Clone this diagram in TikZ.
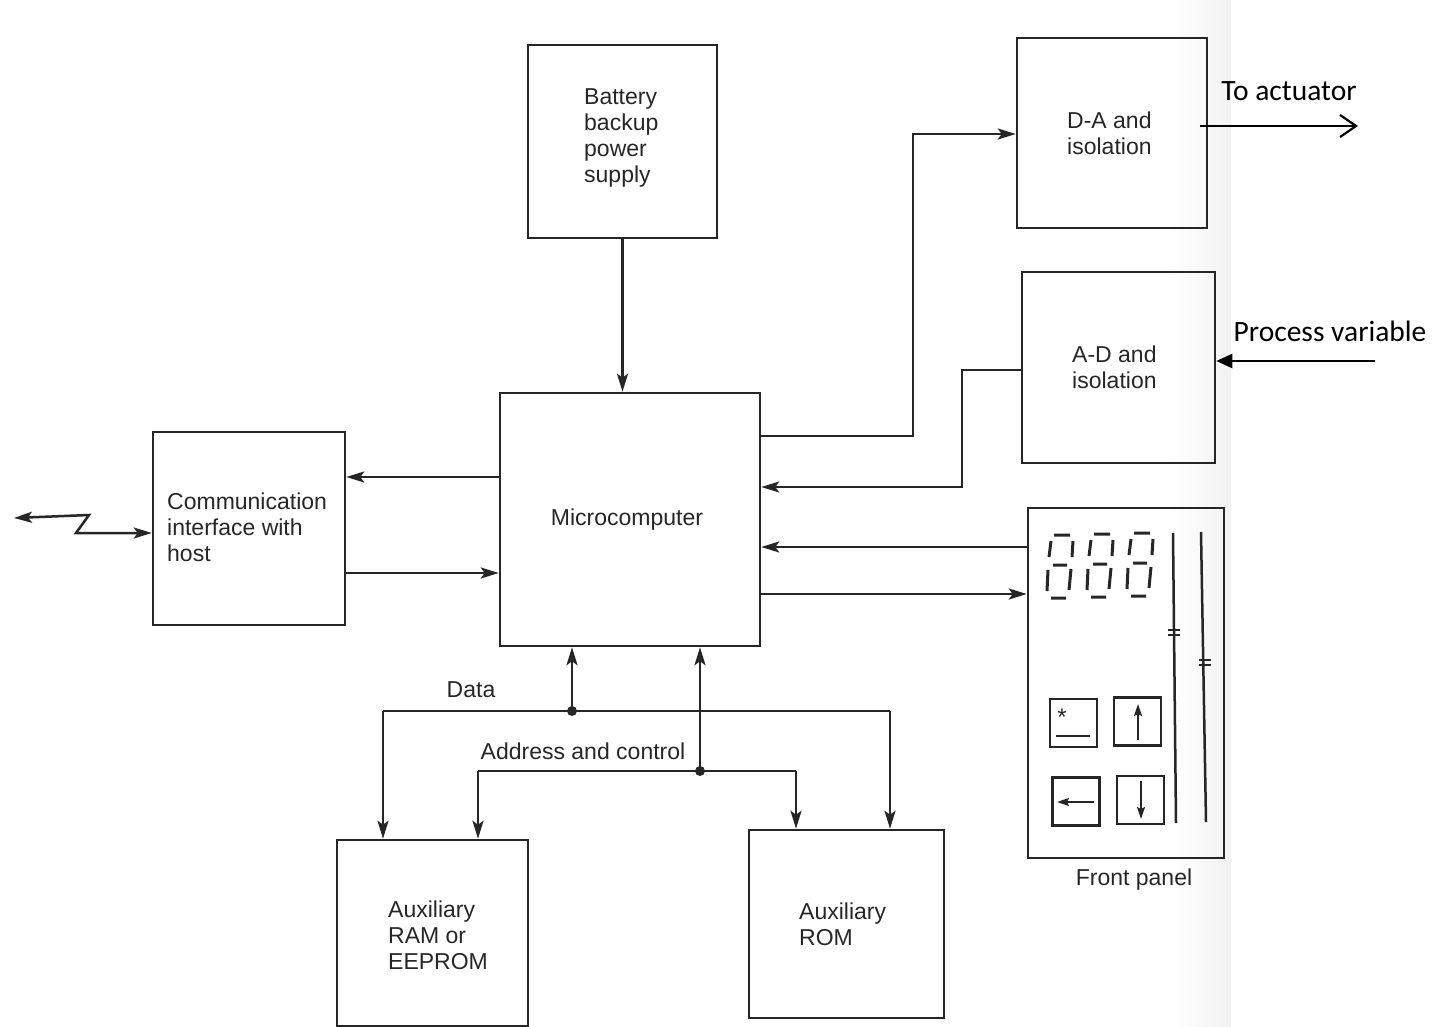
\documentclass[tikz,border=0pt]{standalone}
\usepackage{fontspec}
\setmainfont{Liberation Sans}
\newfontfamily\gillfont{Carlito}
\usetikzlibrary{arrows.meta}
\begin{document}
\begin{tikzpicture}[x=1pt,y=-1pt,
  box/.style={draw=black!85, line width=2.5pt, inner sep=0pt},
  lbl/.style={font=\fontsize{23}{26}\selectfont, align=left, inner sep=0pt, text=black!85},
  arr/.style={draw=black!85, line width=2.5pt, -{Stealth[length=18pt,width=11pt,inset=4pt]}},
  wire/.style={draw=black!85, line width=2.5pt},
  seg/.style={draw=black!85, line width=3pt},
  key/.style={draw=black!85, line width=2.2pt, inner sep=0pt, minimum width=47pt, minimum height=48pt},
  karr/.style={draw=black!85, line width=1.8pt, -{Stealth[length=12pt,width=8pt,inset=2pt]}},
  note/.style={font=\gillfont\fontsize{29.5}{32}\selectfont, inner sep=0pt},
  digit/.pic={
    \draw[seg] (7,0)--(23,0) (4,6)--(2,22) (26,6)--(25,22) (6,30)--(20,30)
               (1,35)--(0,56) (24,34)--(22,55) (4,63)--(19,63);
  }]
\useasboundingbox (0,0) rectangle (1435,1027);
\shade[left color=white, right color=black!5] (1170,0) rectangle (1231,1027);

% boxes
\node[box, minimum width=189pt, minimum height=193pt] (bat) at (622.5,141.5) {};
\node[box, minimum width=260pt, minimum height=253pt] (mic) at (630,519.5) {};
\node[box, minimum width=192pt, minimum height=193pt] (com) at (249,528.5) {};
\node[box, minimum width=190pt, minimum height=190pt] (da) at (1112,133) {};
\node[box, minimum width=193pt, minimum height=191pt] (ad) at (1118.5,367.5) {};
\node[box, minimum width=196pt, minimum height=350pt] (fp) at (1126,683) {};
\node[box, minimum width=191pt, minimum height=186pt] (ram) at (432.5,933) {};
\node[box, minimum width=195pt, minimum height=188pt] (rom) at (846.5,924) {};

% texts
\node[lbl, anchor=west] (batt) at (584,138) {Battery\\backup\\power\\supply};
\node[lbl] (mict) at (627,520) {Microcomputer};
\node[lbl, anchor=west] (comt) at (167,527) {Communication\\interface with\\host};
\node[lbl, anchor=west] (dat) at (1067,133) {D-A and\\isolation};
\node[lbl, anchor=west] (adt) at (1072,367) {A-D and\\isolation};
\node[lbl, anchor=west] (ramt) at (388,935) {Auxiliary\\RAM or\\EEPROM};
\node[lbl, anchor=west] (romt) at (799,924) {Auxiliary\\ROM};
\node[lbl] (datal) at (471,690) {Data};
\node[lbl] (addrl) at (583,751) {Address and control};
\node[lbl] (fpl) at (1134,880) {Front panel};
\node[note] (act) at (1289,91) {To actuator};
\node[note] (pv) at (1330,331) {Process variable};

% connectors
\draw[arr] (bat.south) -- (bat.south |- mic.north);
\coordinate (b1) at (913,436);
\coordinate (b2) at (913,134);
\draw[arr] (mic.east |- b1) -- (b1) -- (b2) -- (da.west |- b2);
\coordinate (c1) at (962,370);
\coordinate (c2) at (962,487);
\draw[arr] (ad.west |- c1) -- (c1) -- (c2) -- (mic.east |- c2);
\coordinate (f1) at (900,547);
\coordinate (f2) at (900,594);
\draw[arr] (fp.west |- f1) -- (mic.east |- f1);
\draw[arr] (mic.east |- f2) -- (fp.west |- f2);
\coordinate (m1) at (420,477);
\coordinate (m2) at (420,573);
\draw[arr] (mic.west |- m1) -- (com.east |- m1);
\draw[arr] (com.east |- m2) -- (mic.west |- m2);
% link to host
\coordinate (zl) at (14,518);
\coordinate (z1) at (89,515);
\coordinate (z2) at (76,533);
\draw[draw=black!85, line width=2.5pt, {Stealth[length=18pt,width=11pt,inset=4pt]}-{Stealth[length=18pt,width=11pt,inset=4pt]}]
  (zl) -- (z1) -- (z2) -- (com.west |- z2);
% data bus
\coordinate (dj) at (572,711);
\coordinate (dl) at (383,711);
\coordinate (dr) at (890,711);
\draw[wire] (dl) -- (dr);
\draw[arr] (dj) -- (dj |- mic.south);
\draw[arr] (dl) -- (dl |- ram.north);
\draw[arr] (dr) -- (dr |- rom.north);
\fill[black!85] (dj) circle (5pt);
% address and control bus
\coordinate (aj) at (700,771);
\coordinate (al) at (478,771);
\coordinate (ar) at (796,771);
\draw[wire] (al) -- (ar);
\draw[arr] (aj) -- (aj |- mic.south);
\draw[arr] (al) -- (al |- ram.north);
\draw[arr] (ar) -- (ar |- rom.north);
\fill[black!85] (aj) circle (5pt);
% external signals
\coordinate (ae) at (1358,126);
\draw[line width=2.2pt, -{Straight Barb[length=16pt,width=22pt,line width=2.2pt]}] (1200,126) -- (ae);
\coordinate (pe) at (1375,361);
\draw[line width=2.2pt, -{Stealth[length=16pt,width=14pt,inset=0pt]}] (pe) -- (ad.east |- pe);

% front panel details
\pic at (1047,535) {digit};
\pic at (1087,534) {digit};
\pic at (1127,533) {digit};
\draw[draw=black!85, line width=2.5pt] (1173,533) -- (1176,823);
\draw[draw=black!85, line width=2.5pt] (1201,532) -- (1206,822);
\draw[draw=black!85, line width=1.8pt] (1168,630) -- (1180,630) (1168,635) -- (1180,635);
\draw[draw=black!85, line width=1.8pt] (1199,660) -- (1211,660) (1199,665) -- (1211,665);
\node[key] (k1) at (1073.5,723) {};
\node[key] (k2) at (1137.5,721.5) {};
\node[key] (k3) at (1076,801.5) {};
\node[key] (k4) at (1140.5,800) {};
\node[inner sep=0pt, font=\fontsize{24}{24}\selectfont, text=black!85] (k1s) at (1062,717) {*};
\draw[draw=black!85, line width=1.8pt] (1056,736) -- (1090,736);
\draw[karr] (1138,740) -- (1138,704);
\draw[karr] (1094,802) -- (1057,802);
\draw[karr] (1141,781) -- (1141,819);
\end{tikzpicture}
\end{document}
